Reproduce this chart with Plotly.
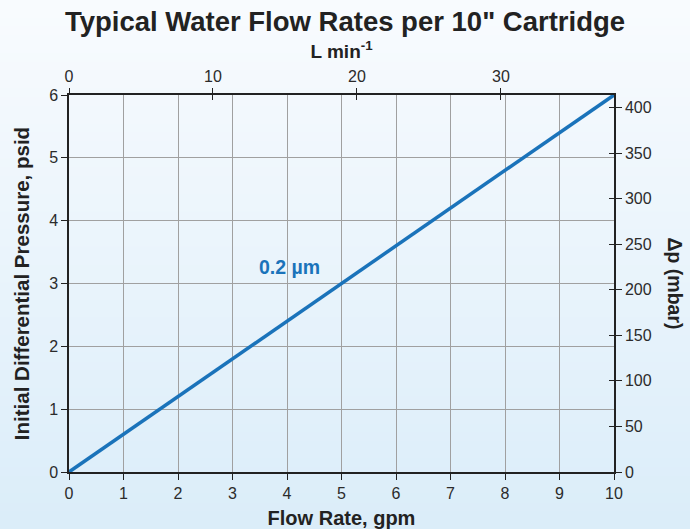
import plotly.graph_objects as go

# ---- data ----
flow_gpm = [0, 10]
pressure_psid = [0, 6]
series_label = "0.2 µm"
label_pos = (4.04, 3.27)

gpm_ticks = list(range(0, 11))
psid_ticks = list(range(0, 7))
lmin_ticks = [0, 10, 20, 30]
mbar_ticks = [0, 50, 100, 150, 200, 250, 300, 350, 400]

GPM_TO_LMIN = 3.78541
PSI_TO_MBAR = 68.9476

title = 'Typical Water Flow Rates per 10" Cartridge'
x_title = "Flow Rate, gpm"
y_title = "Initial Differential Pressure, psid"
x2_title = "L min<sup>-1</sup>"
y2_title = "Δp (mbar)"

# ---- style ----
FONT = "Liberation Sans, Arial, sans-serif"
BLUE = "#1a73ba"
AX = "#222222"
GRID = "#a0a0a0"
TXT = "#2b2b2b"

W, H = 690, 529
L, R, T, B = 69, 76, 95, 57
pw, ph = W - L - R, H - T - B

x_max = flow_gpm[-1]
y_max = psid_ticks[-1]

fig = go.Figure()

# gradient background bands
n = 60
top_c = (248, 251, 254)
bot_c = (219, 237, 249)
y_lo = -B / ph
y_hi = 1 + T / ph
x_lo = -L / pw
x_hi = 1 + R / pw
shapes = []
for i in range(n):
    f = i / (n - 1)
    c = tuple(round(top_c[k] + (bot_c[k] - top_c[k]) * f) for k in range(3))
    y1 = y_hi - (y_hi - y_lo) * i / n
    y0 = y_hi - (y_hi - y_lo) * (i + 1) / n - 0.002
    shapes.append(dict(type="rect", xref="paper", yref="paper", x0=x_lo, x1=x_hi,
                       y0=y0, y1=y1, fillcolor="rgb(%d,%d,%d)" % c,
                       line=dict(width=0), layer="below"))

fig.add_trace(go.Scatter(x=flow_gpm, y=pressure_psid, mode="lines",
                         line=dict(color=BLUE, width=3.5), hoverinfo="skip",
                         showlegend=False, xaxis="x", yaxis="y"))
# invisible traces to anchor secondary axes
fig.add_trace(go.Scatter(x=[0, x_max * GPM_TO_LMIN], y=[0, y_max], mode="markers",
                         marker=dict(opacity=0), showlegend=False, hoverinfo="skip",
                         xaxis="x2", yaxis="y"))
fig.add_trace(go.Scatter(x=[0, x_max], y=[0, y_max * PSI_TO_MBAR], mode="markers",
                         marker=dict(opacity=0), showlegend=False, hoverinfo="skip",
                         xaxis="x", yaxis="y2"))
fig.add_trace(go.Scatter(x=[0, x_max * GPM_TO_LMIN], y=[0, y_max * PSI_TO_MBAR], mode="markers",
                         marker=dict(opacity=0), showlegend=False, hoverinfo="skip",
                         xaxis="x3", yaxis="y3"))

tickfont = dict(family=FONT, size=16, color=TXT)
titlefont = dict(family=FONT, size=20, color="#222222")

fig.update_layout(
    width=W, height=H,
    margin=dict(l=L, r=R, t=T, b=B, pad=0, autoexpand=False),
    paper_bgcolor="rgb(235,243,250)",
    plot_bgcolor="rgba(0,0,0,0)",
    shapes=shapes,
    showlegend=False,
    title=dict(text="<b>%s</b>" % title, x=0.5, xanchor="center", y=1 - 21 / H, yanchor="middle",
               font=dict(family=FONT, size=27.5, color="#222222")),
    xaxis=dict(range=[0, x_max], tickvals=gpm_ticks, showgrid=True, gridcolor=GRID, gridwidth=1,
               showline=True, linecolor=AX, linewidth=1.5, ticks="outside", ticklen=6,
               tickcolor=AX, tickfont=tickfont, zeroline=False, mirror=False, automargin=False,
               title=dict(text="<b>%s</b>" % x_title, font=titlefont, standoff=10)),
    yaxis=dict(range=[0, y_max], tickvals=psid_ticks, showgrid=True, gridcolor=GRID, gridwidth=1,
               showline=True, linecolor=AX, linewidth=1.5, ticks="outside", ticklen=6,
               tickcolor=AX, tickfont=tickfont, zeroline=False, automargin=False,
               title=dict(text="<b>%s</b>" % y_title, font=dict(family=FONT, size=20.5, color="#222"),
                          standoff=14)),
    xaxis2=dict(range=[0, x_max * GPM_TO_LMIN], tickvals=lmin_ticks, overlaying="x", side="top",
                anchor="y", showgrid=False, showline=True, linecolor=AX, linewidth=1.5,
                ticks="outside", ticklen=5, tickcolor=AX, tickfont=tickfont, zeroline=False,
                automargin=False,
                title=dict(text="<b>%s</b>" % x2_title, font=dict(family=FONT, size=19, color="#222"),
                           standoff=4)),
    yaxis2=dict(range=[0, y_max * PSI_TO_MBAR], tickvals=mbar_ticks, overlaying="y", side="right",
                anchor="x", showgrid=False, showline=True, linecolor=AX, linewidth=1.5,
                ticks="outside", ticklen=6, tickcolor=AX, tickfont=tickfont, zeroline=False,
                automargin=False),
    xaxis3=dict(range=[0, x_max * GPM_TO_LMIN], tickvals=lmin_ticks, overlaying="x", side="top",
                anchor="y", showgrid=False, showline=False, ticks="inside", ticklen=5,
                tickcolor=AX, showticklabels=False, zeroline=False, automargin=False),
    yaxis3=dict(range=[0, y_max * PSI_TO_MBAR], tickvals=mbar_ticks, overlaying="y", side="right",
                anchor="x", showgrid=False, showline=False, ticks="inside", ticklen=5,
                tickcolor=AX, showticklabels=False, zeroline=False, automargin=False),
    annotations=[
        dict(x=label_pos[0], y=label_pos[1], xref="x", yref="y", text="<b>%s</b>" % series_label,
             showarrow=False, font=dict(family=FONT, size=19.5, color=BLUE)),
        dict(x=1 + 61 / pw, y=0.5, xref="paper", yref="paper", text="<b>%s</b>" % y2_title,
             showarrow=False, textangle=90, font=dict(family=FONT, size=19.5, color="#222"),
             xanchor="center", yanchor="middle"),
    ],
)

fig.write_html("out.html", config={"displayModeBar": False},
               post_script="document.body.style.margin='0';document.body.style.overflow='hidden';")
